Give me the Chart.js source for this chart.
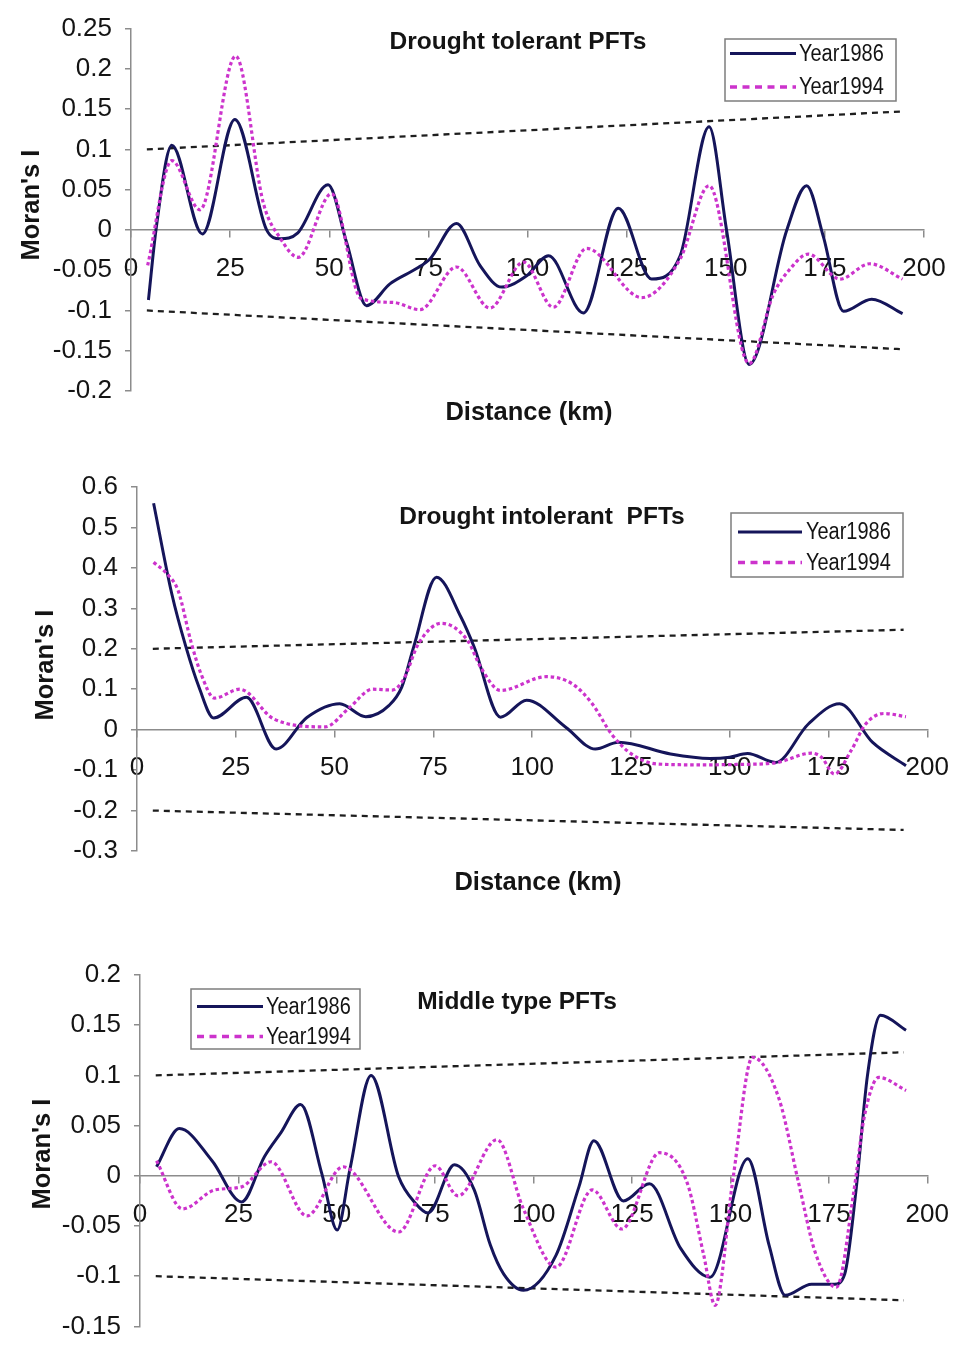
<!DOCTYPE html>
<html>
<head>
<meta charset="utf-8">
<title>Moran's I correlograms of PFTs</title>
<script src="https://cdn.jsdelivr.net/npm/chart.js@4.4.1/dist/chart.umd.min.js"></script>
<style>
  html, body { margin: 0; padding: 0; background: #fff; }
  #page { position: relative; width: 965px; height: 1345px; overflow: hidden; background: #fff; }
  #page canvas { position: absolute; left: 0; }
</style>
</head>
<body>
<div id="page">
  <canvas id="tolerantChart" width="965" height="440" style="top:0px"></canvas>
  <canvas id="intolerantChart" width="965" height="480" style="top:440px"></canvas>
  <canvas id="middleChart" width="965" height="440" style="top:915px"></canvas>
</div>
<script>
// ---------- data: distance (km) and Moran's I ----------
const seriesLabels = ['Year1986', 'Year1994'];

// Drought tolerant PFTs
const tolerantKm1986 = [4.4, 6.3, 10.3, 18, 26.2, 34.2, 37.6, 42, 49.7, 54.4, 59.4, 65.3, 72, 75.4, 82.1, 88, 93.5, 99.8, 105.3, 114.1, 122.9, 131.3, 138.5, 145.8, 150.2, 155.9, 165.4, 170.4, 174.6, 179.7, 186.8, 194.6];
const tolerant1986 = [-0.087, 0.0, 0.105, -0.005, 0.137, 0.0, -0.011, -0.004, 0.056, -0.016, -0.094, -0.067, -0.048, -0.036, 0.008, -0.044, -0.071, -0.057, -0.032, -0.103, 0.027, -0.061, -0.032, 0.128, 0.0, -0.167, 0.0, 0.055, -0.008, -0.101, -0.086, -0.104];
const tolerantKm1994 = [4.2, 10.3, 17.4, 26.4, 33.4, 37.6, 42.2, 50.6, 58, 66, 72.9, 82.1, 90.5, 99, 106.5, 114.9, 128.8, 138.5, 145.8, 155.9, 162, 166.3, 170.8, 178.8, 186.3, 194.6];
const tolerant1994 = [-0.044, 0.086, 0.025, 0.216, 0.033, -0.01, -0.034, 0.045, -0.085, -0.09, -0.099, -0.046, -0.097, -0.04, -0.096, -0.023, -0.084, -0.036, 0.055, -0.166, -0.08, -0.048, -0.030, -0.061, -0.042, -0.061];
const tolerantBoundKm = [4, 194];
const tolerantUpper = [0.1, 0.147];
const tolerantLower = [-0.1, -0.148];

// Drought intolerant PFTs
const intolerantKm1986 = [4.2, 8.8, 12.4, 15.7, 19.4, 27.7, 35.2, 43, 51.3, 57.9, 63.8, 67, 70, 75.8, 82, 85.3, 92, 98.6, 108.5, 116, 121.8, 135, 145, 150, 154.5, 161.6, 169.9, 177.8, 186.1, 194.6];
const intolerant1986 = [0.56, 0.336, 0.204, 0.105, 0.029, 0.08, -0.048, 0.03, 0.064, 0.032, 0.06, 0.105, 0.204, 0.377, 0.278, 0.205, 0.031, 0.073, 0.006, -0.048, -0.031, -0.06, -0.071, -0.068, -0.059, -0.081, 0.014, 0.064, -0.031, -0.089];
const intolerantKm1994 = [4.2, 8, 10.4, 13.7, 16.2, 19.6, 26, 34.7, 47.6, 53.8, 59.6, 64.6, 67.5, 71.2, 77, 83.7, 87, 92, 103.6, 110.2, 115.2, 120.1, 125.1, 131.8, 143.4, 151.7, 161.6, 170.7, 173.2, 176.5, 180.7, 184.4, 189, 194.6];
const intolerant1994 = [0.414, 0.381, 0.344, 0.216, 0.138, 0.078, 0.10, 0.026, 0.007, 0.055, 0.10, 0.098, 0.125, 0.212, 0.263, 0.22, 0.154, 0.097, 0.131, 0.113, 0.064, -0.011, -0.06, -0.085, -0.087, -0.086, -0.082, -0.058, -0.068, -0.11, -0.052, 0.014, 0.04, 0.032];
const intolerantBoundKm = [4, 194];
const intolerantUpper = [0.2, 0.247];
const intolerantLower = [-0.2, -0.248];

// Middle type PFTs
const middleKm1986 = [4.2, 10, 18.3, 25.8, 31.6, 35.8, 40.8, 46.2, 50.1, 53.3, 58.7, 65.7, 69.9, 73.2, 79.9, 84.9, 89, 92.4, 97.4, 105.7, 111.5, 115.3, 122.8, 129.4, 137.3, 144.8, 154.4, 159.8, 163.9, 170.6, 176.4, 179, 181.9, 184.8, 188.1, 194.6];
const middle1986 = [0.009, 0.047, 0.015, -0.026, 0.019, 0.043, 0.071, 0.002, -0.054, 0.006, 0.10, -0.001, -0.027, -0.037, 0.011, -0.014, -0.069, -0.098, -0.114, -0.079, -0.011, 0.035, -0.025, -0.008, -0.072, -0.101, 0.017, -0.069, -0.119, -0.108, -0.108, -0.098, -0.014, 0.10, 0.16, 0.145];
const middleKm1994 = [4.2, 10.8, 19.1, 25.8, 33.3, 42.4, 51.6, 65.7, 75, 80.8, 90.7, 97.4, 105.7, 114.9, 122.4, 132, 139, 143.2, 146.1, 150.7, 155.6, 162.3, 167.3, 171.5, 176.9, 181.4, 183.9, 187.7, 194.6];
const middle1994 = [0.015, -0.033, -0.014, -0.011, 0.014, -0.04, 0.009, -0.056, 0.01, -0.02, 0.036, -0.033, -0.091, -0.014, -0.053, 0.023, -0.007, -0.079, -0.129, -0.001, 0.118, 0.077, -0.007, -0.076, -0.111, -0.014, 0.057, 0.098, 0.085];
const middleBoundKm = [4, 194];
const middleUpper = [0.1, 0.123];
const middleLower = [-0.1, -0.124];

// axis ranges
const distanceTicks = { min: 0, max: 200, step: 25 };
const tolerantTicks = { min: -0.2, max: 0.25, step: 0.05 };
const intolerantTicks = { min: -0.3, max: 0.6, step: 0.1 };
const middleTicks = { min: -0.15, max: 0.2, step: 0.05 };

// ---------- styling ----------
const FONT = "'Liberation Sans', Arial, sans-serif";
const NAVY = '#15155a';
const MAGENTA = '#cc33cc';
const BOUND = '#1e1e1e';
const AXIS = '#8c8c8c';
const TEXT = '#141414';

Chart.defaults.font.family = FONT;
Chart.defaults.color = TEXT;

function toPoints(xs, ys) {
  return xs.map((x, i) => ({ x: x, y: ys[i] }));
}

function fmt(v) {
  return String(Number(v.toFixed(3)));
}

// text drawn with its cap-height centred on y
function capText(ctx, str, x, y, size, bold, rotate) {
  ctx.save();
  ctx.translate(x, y);
  if (rotate) ctx.rotate(-Math.PI / 2);
  ctx.font = (bold ? 'bold ' : '') + size + 'px ' + FONT;
  ctx.fillStyle = TEXT;
  ctx.textAlign = 'center';
  ctx.textBaseline = 'alphabetic';
  ctx.fillText(str, 0, 0.358 * size);
  ctx.restore();
}

// titles, axis names and the boxed legend
function decorations(spec) {
  return {
    id: 'decorations',
    afterDraw(chart) {
      const ctx = chart.ctx;
      capText(ctx, spec.title, spec.titleX, spec.titleY, 24.5, true);
      capText(ctx, "Moran's I", spec.yNameX, spec.yNameY, 25.5, true, true);
      if (spec.xName) capText(ctx, 'Distance (km)', spec.xNameX, spec.xNameY, 25.5, true);

      const lg = spec.legend;
      ctx.save();
      ctx.strokeStyle = '#7d7d7d';
      ctx.lineWidth = 1.5;
      ctx.strokeRect(lg.x, lg.y, lg.w, lg.h);
      const items = chart.data.datasets.filter(d => seriesLabels.includes(d.label));
      items.sort((a, b) => seriesLabels.indexOf(a.label) - seriesLabels.indexOf(b.label));
      items.forEach((ds, i) => {
        const rowY = lg.rows[i];
        ctx.beginPath();
        ctx.strokeStyle = ds.borderColor;
        ctx.lineWidth = ds.label === 'Year1986' ? 3 : 3.5;
        ctx.setLineDash(ds.label === 'Year1986' ? [] : [7, 5.5]);
        ctx.moveTo(lg.lineX0, rowY + 1);
        ctx.lineTo(lg.lineX1, rowY + 1);
        ctx.stroke();
        ctx.setLineDash([]);
        ctx.save();
        ctx.translate(lg.textX, rowY);
        ctx.scale(0.85, 1);
        ctx.font = '23.5px ' + FONT;
        ctx.fillStyle = TEXT;
        ctx.textAlign = 'left';
        ctx.textBaseline = 'alphabetic';
        ctx.fillText(ds.label, 0, 0.358 * 23.5);
        ctx.restore();
      });
      ctx.restore();
    }
  };
}

function buildChart(id, cfg) {
  const datasets = [
    {
      label: 'Year1986', data: toPoints(cfg.km86, cfg.v86),
      borderColor: NAVY, borderWidth: 3, order: 2
    },
    {
      label: 'Year1994', data: toPoints(cfg.km94, cfg.v94),
      borderColor: MAGENTA, borderWidth: 3.2, borderDash: [3.5, 2.8], order: 1
    },
    {
      label: 'upper bound', data: toPoints(cfg.boundKm, cfg.upper),
      borderColor: BOUND, borderWidth: 2.3, borderDash: [6, 5], order: 3
    },
    {
      label: 'lower bound', data: toPoints(cfg.boundKm, cfg.lower),
      borderColor: BOUND, borderWidth: 2.3, borderDash: [6, 5], order: 3
    }
  ].map(d => Object.assign({
    fill: false, pointRadius: 0, pointHoverRadius: 0,
    cubicInterpolationMode: 'monotone', backgroundColor: d.borderColor
  }, d));

  return new Chart(document.getElementById(id), {
    type: 'line',
    data: { datasets: datasets },
    options: {
      responsive: false,
      animation: false,
      devicePixelRatio: 1,
      events: [],
      layout: { padding: cfg.padding },
      plugins: { legend: { display: false }, tooltip: { enabled: false }, title: { display: false } },
      scales: {
        x: {
          type: 'linear',
          position: { y: 0 },
          min: distanceTicks.min, max: distanceTicks.max,
          ticks: {
            stepSize: distanceTicks.step, autoSkip: false, maxRotation: 0,
            font: { size: 26 }, color: TEXT, padding: 16,
            callback: v => fmt(v)
          },
          grid: { drawOnChartArea: false, drawTicks: true, tickLength: 7, color: AXIS, lineWidth: 1.5 },
          border: { display: true, color: AXIS, width: 1.5 }
        },
        y: {
          type: 'linear',
          position: 'left',
          min: cfg.yTicks.min, max: cfg.yTicks.max,
          ticks: {
            stepSize: cfg.yTicks.step, font: { size: 26 }, color: TEXT, padding: 13,
            callback: v => fmt(v)
          },
          grid: { drawOnChartArea: false, drawTicks: true, tickLength: 6, color: AXIS, lineWidth: 1.5 },
          border: { display: true, color: AXIS, width: 1.5 },
          afterFit: s => { s.width = cfg.yWidth; }
        }
      }
    },
    plugins: [decorations(cfg.deco)]
  });
}

buildChart('tolerantChart', {
  km86: tolerantKm1986, v86: tolerant1986,
  km94: tolerantKm1994, v94: tolerant1994,
  boundKm: tolerantBoundKm, upper: tolerantUpper, lower: tolerantLower,
  yTicks: tolerantTicks,
  yWidth: 131,
  padding: { left: 0, top: 22, right: 41, bottom: 49 },
  deco: {
    title: 'Drought tolerant PFTs', titleX: 518, titleY: 40.5,
    yNameX: 29.5, yNameY: 205,
    xName: true, xNameX: 529, xNameY: 411,
    legend: { x: 725, y: 39, w: 171, h: 62, rows: [52.5, 86], lineX0: 730, lineX1: 796, textX: 799 }
  }
});

buildChart('intolerantChart', {
  km86: intolerantKm1986, v86: intolerant1986,
  km94: intolerantKm1994, v94: intolerant1994,
  boundKm: intolerantBoundKm, upper: intolerantUpper, lower: intolerantLower,
  yTicks: intolerantTicks,
  yWidth: 137,
  padding: { left: 0, top: 47, right: 24, bottom: 69 },
  deco: {
    title: 'Drought intolerant  PFTs', titleX: 542, titleY: 75.5,
    yNameX: 44, yNameY: 225,
    xName: true, xNameX: 538, xNameY: 441,
    legend: { x: 731, y: 73, w: 172, h: 64, rows: [91, 121.5], lineX0: 738, lineX1: 802, textX: 806 }
  }
});

buildChart('middleChart', {
  km86: middleKm1986, v86: middle1986,
  km94: middleKm1994, v94: middle1994,
  boundKm: middleBoundKm, upper: middleUpper, lower: middleLower,
  yTicks: middleTicks,
  yWidth: 140,
  padding: { left: 0, top: 60, right: 24, bottom: 22 },
  deco: {
    title: 'Middle type PFTs', titleX: 517, titleY: 85.5,
    yNameX: 41, yNameY: 239,
    xName: false,
    legend: { x: 191, y: 74, w: 169, h: 60, rows: [90.5, 120.5], lineX0: 197, lineX1: 263, textX: 266 }
  }
});
</script>
</body>
</html>
